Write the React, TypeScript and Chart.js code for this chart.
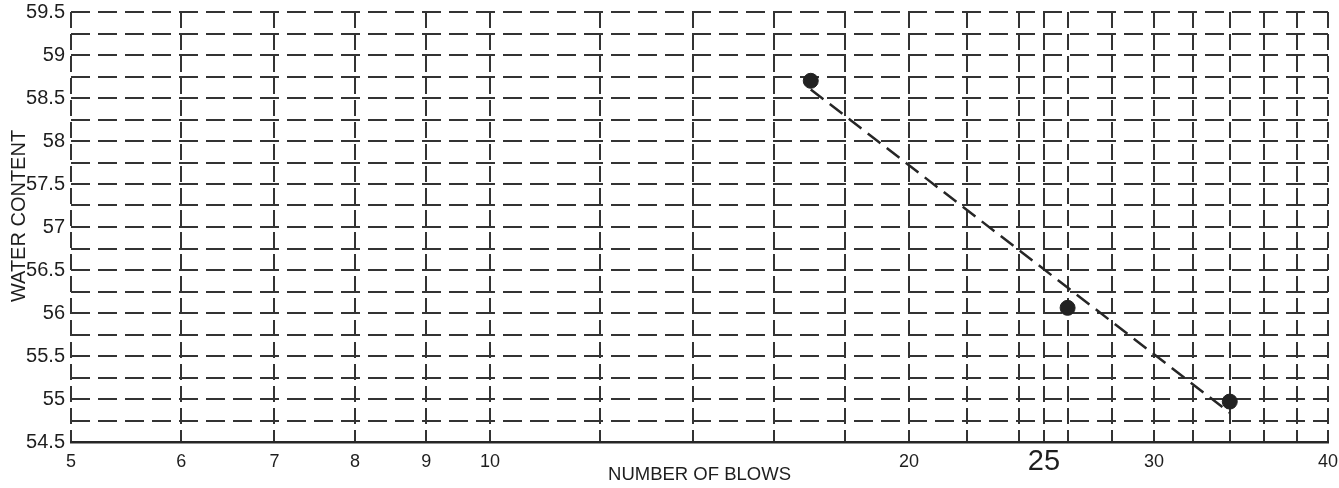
import React, { useEffect, useRef } from 'react';
import { Chart, registerables } from 'chart.js';

Chart.register(...registerables);

// ---- data ----
const blowCounts = [17, 26, 34];
const waterContents = [58.7, 56.06, 54.97];
const trendBlows = [17, 34];
const trendWater = [58.6, 54.84];
const xGridValues = [5, 6, 7, 8, 9, 10, 12, 14, 16, 18, 20, 22, 24, 25, 26, 28, 30, 32, 34, 36, 38, 40];
const xLabelValues = [5, 6, 7, 8, 9, 10, 20, 25, 30, 40];
const yGridValues = [
  54.5, 54.75, 55, 55.25, 55.5, 55.75, 56, 56.25, 56.5, 56.75, 57, 57.25, 57.5, 57.75,
  58, 58.25, 58.5, 58.75, 59, 59.25, 59.5,
];
const yLabelValues = [54.5, 55, 55.5, 56, 56.5, 57, 57.5, 58, 58.5, 59, 59.5];
const emphasizedLabel = 25;
const xTitle = 'NUMBER OF BLOWS';
const yTitle = 'WATER CONTENT';

const FAMILY = '"Liberation Sans", Arial, Helvetica, sans-serif';
const INK = '#1e1e1e';
const GRID = '#333333';

const yTitlePlugin = {
  id: 'yTitlePlugin',
  afterDraw(chart: any) {
    const { ctx, chartArea } = chart;
    ctx.save();
    const cy = (chartArea.top + chartArea.bottom) / 2 - 11;
    ctx.translate(19.5, cy);
    ctx.rotate(-Math.PI / 2);
    ctx.font = `20px ${FAMILY}`;
    ctx.fillStyle = INK;
    ctx.textAlign = 'center';
    ctx.textBaseline = 'middle';
    ctx.fillText(yTitle, 0, 0);
    ctx.restore();
  },
};

export default function App() {
  const canvasRef = useRef<HTMLCanvasElement | null>(null);

  useEffect(() => {
    const canvas = canvasRef.current;
    if (!canvas) return;
    const chart = new Chart(canvas, {
      type: 'scatter',
      data: {
        datasets: [
          {
            label: 'Trend',
            data: trendBlows.map((x, i) => ({ x, y: trendWater[i] })),
            showLine: true,
            borderColor: '#262626',
            borderWidth: 2.5,
            borderDash: [16, 8],
            pointRadius: 0,
            fill: false,
            order: 2,
          },
          {
            label: 'Tests',
            data: blowCounts.map((x, i) => ({ x, y: waterContents[i] })),
            pointRadius: 7.5,
            pointBackgroundColor: '#222',
            pointBorderColor: '#222',
            order: 1,
          },
        ],
      } as any,
      options: {
        responsive: false,
        animation: false,
        layout: { padding: { left: 0, top: 12, right: 11, bottom: 0 } },
        plugins: {
          legend: { display: false },
          tooltip: { enabled: false },
        },
        scales: {
          x: {
            type: 'logarithmic',
            position: 'bottom',
            min: 5,
            max: 40,
            afterBuildTicks: (s: any) => {
              s.ticks = xGridValues.map((v) => ({ value: v }));
            },
            afterFit: (s: any) => {
              s.height = 46;
              s.paddingLeft = 0;
              s.paddingRight = 0;
            },
            grid: { color: GRID, lineWidth: 2, drawTicks: false },
            border: { display: true, color: '#262626', width: 2.5, dash: [16, 6] },
            ticks: {
              autoSkip: false,
              maxRotation: 0,
              minRotation: 0,
              padding: 9,
              color: INK,
              callback: (v: any) => (xLabelValues.includes(Number(v)) ? String(v) : ''),
              font: (ctx: any) =>
                ctx.tick && ctx.tick.value === emphasizedLabel
                  ? { size: 29, family: FAMILY, lineHeight: 0.75 }
                  : { size: 18, family: FAMILY },
            },
            title: {
              display: true,
              text: xTitle,
              color: INK,
              font: { size: 18.5, family: FAMILY },
              padding: { top: 0, bottom: 2 },
            },
          },
          y: {
            type: 'linear',
            min: 54.5,
            max: 59.5,
            afterBuildTicks: (s: any) => {
              s.ticks = yGridValues.map((v) => ({ value: v }));
            },
            afterFit: (s: any) => {
              s.width = 71;
              s.paddingTop = 0;
              s.paddingBottom = 0;
            },
            grid: { color: GRID, lineWidth: 2, drawTicks: false },
            border: { display: false, dash: [19, 8] },
            ticks: {
              autoSkip: false,
              padding: 6,
              color: INK,
              callback: (v: any) => (yLabelValues.includes(Number(v)) ? String(v) : ''),
              font: { size: 20, family: FAMILY },
            },
          },
        },
      } as any,
      plugins: [yTitlePlugin],
    });
    return () => chart.destroy();
  }, []);

  return (
    <div
      style={{
        position: 'fixed',
        left: 0,
        top: 0,
        width: 1339,
        height: 488,
        background: '#ffffff',
      }}
    >
      <canvas ref={canvasRef} width={1339} height={488} style={{ display: 'block' }} />
    </div>
  );
}
